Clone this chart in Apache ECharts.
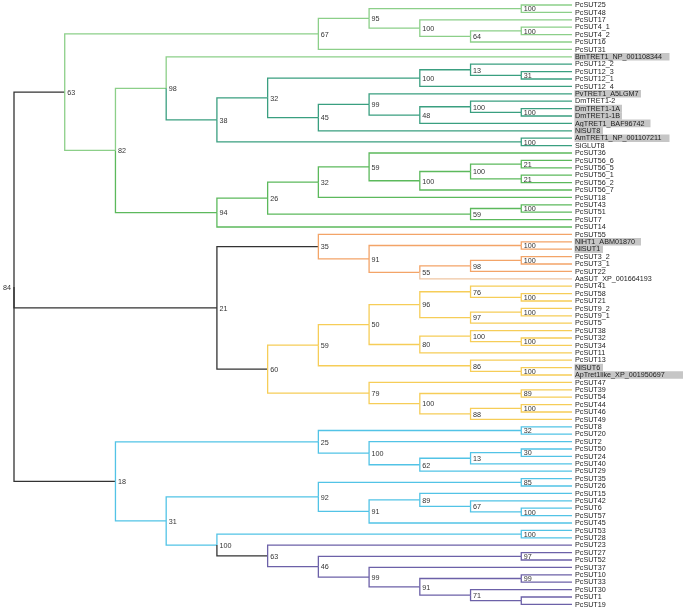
<!DOCTYPE html>
<html><head><meta charset="utf-8">
<script src="https://cdn.jsdelivr.net/npm/echarts@6.0.0/dist/echarts.min.js"></script>
<style>html,body{margin:0;padding:0;background:#fff}#c{width:683px;height:610px}</style>
</head><body><div id="c"></div><script>
// ---- DATA: tree topology (Newick) with bootstrap support values ----
const clade67 = "(((PcSUT25,PcSUT48)100,(PcSUT17,((PcSUT4_1,PcSUT4_2)100,PcSUT16)64)100)95,PcSUT31)67";
const clade45 = "((PvTRET1_A5LGM7,((DmTRET1-2,(DmTRET1-1A,DmTRET1-1B)100)100,AgTRET1_BAF96742)48)99,NlSUT8)45";
const clade38 = "((((PcSUT12_2,(PcSUT12_3,PcSUT12_1)31)13,PcSUT12_4)100," + clade45 + ")32,(AmTRET1_NP_001107211,SiGLUT8)100)38";
const clade94 = "((((PcSUT36,(((PcSUT56_6,PcSUT56_5)21,(PcSUT56_1,PcSUT56_2)21)100,PcSUT56_7)100)59,PcSUT18)32,((PcSUT43,PcSUT51)100,PcSUT7)59)26,PcSUT14)94";
const clade63 = "(" + clade67 + ",((BmTRET1_NP_001108344," + clade38 + ")98," + clade94 + ")82)63";
const clade35 = "(PcSUT55,((NlHT1_ABM01870,NlSUT1)100,(((PcSUT3_2,PcSUT3_1)100,PcSUT22)98,AaSUT_XP_001664193)55)91)35";
const clade50 = "(((PcSUT41,(PcSUT58,PcSUT21)100)76,((PcSUT9_2,PcSUT9_1)100,PcSUT5)97)96,((PcSUT38,(PcSUT32,PcSUT34)100)100,PcSUT11)80)50";
const clade79 = "(PcSUT47,((PcSUT39,PcSUT54)89,((PcSUT44,PcSUT46)100,PcSUT49)88)100)79";
const clade21 = "(" + clade35 + ",((" + clade50 + ",(PcSUT13,(NlSUT6,ApTret1like_XP_001950697)100)86)59," + clade79 + ")60)21";
const clade25 = "((PcSUT8,PcSUT20)32,(PcSUT2,(((PcSUT50,PcSUT24)30,PcSUT40)13,PcSUT29)62)100)25";
const clade92 = "((PcSUT35,PcSUT26)85,((PcSUT15,(PcSUT42,(PcSUT6,PcSUT57)100)67)89,PcSUT45)91)92";
const clade100 = "((PcSUT53,PcSUT28)100,(PcSUT23,((PcSUT27,PcSUT52)97,(PcSUT37,((PcSUT10,PcSUT33)99,(PcSUT30,(PcSUT1,PcSUT19))71)91)99)46)63)100";
const clade18 = "(" + clade25 + ",(" + clade92 + "," + clade100 + ")31)18";
const treeNewick = "(" + clade63 + "," + clade21 + "," + clade18 + ")84;";

const highlighted = ["BmTRET1_NP_001108344","PvTRET1_A5LGM7","DmTRET1-1A","DmTRET1-1B","AgTRET1_BAF96742",
  "NlSUT8","AmTRET1_NP_001107211","NlHT1_ABM01870","NlSUT1","NlSUT6","ApTret1like_XP_001950697"];

// ---- STYLE: clade colouring [leafA, leafB, colour, includeStem] ----
const colorGroups = [
  ['PcSUT25','PcSUT14','#8ccf89',false],
  ['PcSUT36','PcSUT14','#5cb95c',true],
  ['PcSUT12_2','SiGLUT8','#3a9f80',true],
  ['PcSUT55','AaSUT_XP_001664193','#f3a468',false],
  ['AaSUT_XP_001664193','AaSUT_XP_001664193','#efc6a2',true],
  ['PcSUT41','PcSUT49','#f6cd58',false],
  ['PcSUT8','PcSUT19','#52c3e6',false],
  ['PcSUT23','PcSUT19','#333333',true],
  ['PcSUT23','PcSUT19','#6c61a8',false]
];
const defaultColor = '#333333';

// ---- parse & layout ----
function parse(s){
  let i = 0;
  function node(parent){
    const n = {children:[], name:'', label:'', parent};
    if (s[i] === '('){
      i++; n.children.push(node(n));
      while (s[i] === ','){ i++; n.children.push(node(n)); }
      i++;
    }
    let t = '';
    while (i < s.length && !',();'.includes(s[i])) t += s[i++];
    if (n.children.length) n.label = t; else n.name = t;
    return n;
  }
  return node(null);
}
const root = parse(treeNewick);
const leaves = [];
const allNodes = [];
(function walk(n){
  allNodes.push(n);
  if (!n.children.length){ leaves.push(n); n.y = leaves.length; n.h = 0; n.lo = n.hi = n.y; return; }
  n.children.forEach(walk);
  n.y = (n.children[0].y + n.children[n.children.length-1].y) / 2;
  n.h = 1 + Math.max(...n.children.map(c => c.h));
  n.lo = n.children[0].lo; n.hi = n.children[n.children.length-1].hi;
})(root);
const maxH = root.h;
allNodes.forEach(n => n.x = maxH - n.h);
const leafByName = {}; leaves.forEach(l => leafByName[l.name] = l);
function mrca(a, b){
  let n = leafByName[a]; const t = leafByName[b];
  while (n && !(n.lo <= t.y && t.y <= n.hi)) n = n.parent;
  return n;
}
function isAnc(a, n){ while (n){ if (n === a) return true; n = n.parent; } return false; }
const groups = colorGroups.map(g => ({m: mrca(g[0], g[1]), color: g[2], stem: g[3]}));
const palette = [];
function colorOf(n){
  let c = defaultColor;
  groups.forEach(g => { if (g.stem ? isAnc(g.m, n) : (g.m !== n && isAnc(g.m, n))) c = g.color; });
  let k = palette.indexOf(c); if (k < 0){ palette.push(c); k = palette.length - 1; }
  return k;
}
const edgeData = [];
allNodes.forEach(n => { if (n.parent) edgeData.push([n.parent.x, n.parent.y, n.x, n.y, colorOf(n)]); });
const leafData = leaves.map((l, k) => [l.x, l.y, k]);
const bootData = allNodes.filter(n => n.children.length && n.label).map(n => [n.x, n.y, +n.label, n === root ? 1 : 0]);

const FONT = '"Liberation Sans", Arial, Helvetica, sans-serif';
const chart = echarts.init(document.getElementById('c'), null, {renderer:'canvas'});
chart.setOption({
  animation: false,
  backgroundColor: '#ffffff',
  grid: {left: 14, right: 111, top: 5, bottom: 5.6, containLabel: false},
  xAxis: {type:'value', min: 0, max: maxH, show: false},
  yAxis: {type:'value', min: 1, max: leaves.length, inverse: true, show: false},
  series: [
    {
      type: 'custom', silent: true, clip: false,
      data: edgeData,
      renderItem(params, api){
        const p0 = api.coord([api.value(0), api.value(1)]);
        const p1 = api.coord([api.value(0), api.value(3)]);
        const p2 = api.coord([api.value(2), api.value(3)]);
        return {type:'polyline', shape:{points:[p0,p1,p2]},
          style:{stroke: palette[api.value(4)], lineWidth: 1.3, fill: null}};
      }
    },
    {
      type: 'custom', silent: true, clip: false,
      data: leafData,
      renderItem(params, api){
        const p = api.coord([api.value(0), api.value(1)]);
        const name = leaves[api.value(2)].name;
        const ch = [];
        if (highlighted.includes(name)){
          ch.push({type:'rect', shape:{x: p[0]+2.5, y: p[1]-3.8, width: name.length*4.75, height: 7.6},
            style:{fill:'#c6c6c6'}});
        }
        ch.push({type:'text', x: p[0]+3, y: p[1]+0.3,
          style:{text: name, fontSize: 7.2, fontFamily: FONT, fill:'#222', align:'left', verticalAlign:'middle'}});
        return {type:'group', children: ch};
      }
    },
    {
      type: 'custom', silent: true, clip: false,
      data: bootData,
      renderItem(params, api){
        const p = api.coord([api.value(0), api.value(1)]);
        const isRoot = api.value(3) === 1;
        return {type:'text', x: isRoot ? p[0]-3 : p[0]+2.5, y: p[1]+0.8,
          style:{text: String(api.value(2)), fontSize: 7.2, fontFamily: FONT, fill:'#333',
            align: isRoot ? 'right' : 'left', verticalAlign:'middle'}};
      }
    }
  ]
});
</script></body></html>
